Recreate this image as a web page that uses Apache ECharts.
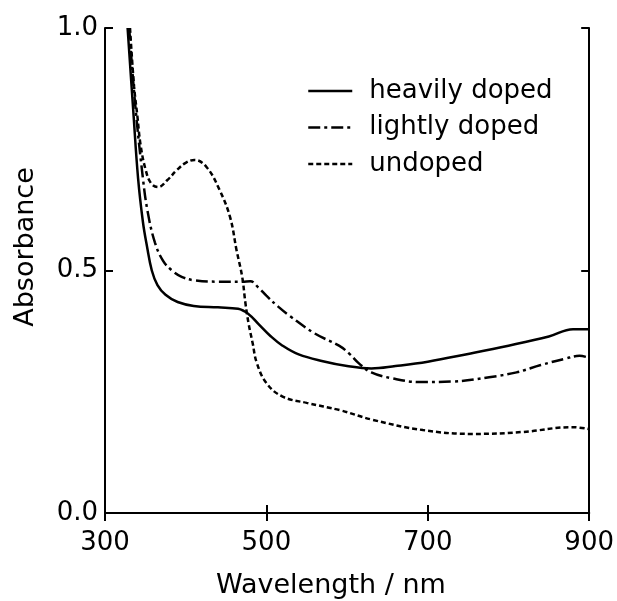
<!DOCTYPE html>
<html><head><meta charset="utf-8">
<script src="https://cdn.jsdelivr.net/npm/echarts@6/dist/echarts.min.js"></script>
<style>html,body{margin:0;padding:0;background:#fff}#c{width:617px;height:601px}</style>
</head><body><div id="c"></div>
<script>
const seriesNames = ["heavily doped", "lightly doped", "undoped"];
const xTicks = [300, 500, 700, 900];
const yTicks = [0.0, 0.5, 1.0];
const xTitle = "Wavelength / nm";
const yTitle = "Absorbance";

const heavyX = [328,335,341,347,352,358,365,375,390,410,440,465,478,490,505,520,540,570,600,630,660,700,750,800,850,880,900];
const heavyY = [1.0,0.83,0.69,0.6,0.55,0.5,0.47,0.45,0.435,0.427,0.424,0.421,0.41,0.39,0.365,0.345,0.327,0.313,0.303,0.298,0.303,0.312,0.328,0.345,0.364,0.379,0.379];

const lightX = [330,337,347,353,362,372,383,395,410,440,470,480,490,500,515,530,560,590,603,615,630,655,690,730,776,810,840,870,888,900];
const lightY = [1.0,0.85,0.69,0.62,0.557,0.52,0.5,0.487,0.48,0.477,0.477,0.478,0.465,0.448,0.425,0.405,0.37,0.345,0.328,0.308,0.29,0.278,0.27,0.271,0.28,0.29,0.305,0.318,0.324,0.32];

const undopedX = [331,336,340,344,350,357,366,377,389,400,411,426,442,455,463,470,474,478,483,488,500,520,550,591,632,694,756,817,879,900];
const undopedY = [1.0,0.88,0.82,0.76,0.71,0.68,0.672,0.686,0.707,0.722,0.728,0.713,0.666,0.61,0.542,0.487,0.433,0.39,0.35,0.31,0.268,0.24,0.227,0.212,0.192,0.171,0.163,0.167,0.177,0.173];

const pairs = (xs, ys) => xs.map((x, i) => [x, ys[i]]);
const font = "DejaVu Sans";
const styles = ["solid", [12, 4, 3, 4], [5, 3]];
const allX = [heavyX, lightX, undopedX];
const allY = [heavyY, lightY, undopedY];

const chart = echarts.init(document.getElementById('c'));
const axisBase = {
  axisLine: {show: true, lineStyle: {color: '#000', width: 2}},
  axisTick: {show: true, inside: true, length: 8, lineStyle: {color: '#000', width: 2}},
  splitLine: {show: false}
};
chart.setOption({
  animation: false,
  backgroundColor: '#fff',
  grid: {left: 105, right: 27, top: 28, bottom: 88},
  legend: seriesNames.map((n, i) => ({
    data: [n], left: 302, top: 73 + i * 36.5, itemWidth: 44, itemHeight: 14,
    itemStyle: {opacity: 0},
    lineStyle: {width: 2.5},
    textStyle: {fontFamily: font, fontSize: 26, color: '#000', padding: [0, 0, 0, 12]}
  })),
  graphic: [
    {type: 'text', left: 216, top: 572, style: {text: xTitle, font: '27px "DejaVu Sans"', fill: '#000'}},
    {type: 'text', x: 12, y: 247, rotation: Math.PI / 2, style: {text: yTitle, font: '27px "DejaVu Sans"', fill: '#000', align: 'center', verticalAlign: 'top'}}
  ],
  xAxis: [
    Object.assign({}, axisBase, {type: 'value', min: xTicks[0], max: xTicks[xTicks.length - 1], interval: 200,
      axisLabel: {fontFamily: font, fontSize: 26, color: '#000', margin: 17}}),
    Object.assign({}, axisBase, {type: 'value', position: 'top', min: 300, max: 900, interval: 200, axisLabel: {show: false}})
  ],
  yAxis: [
    Object.assign({}, axisBase, {type: 'value', min: yTicks[0], max: yTicks[yTicks.length - 1], interval: 0.5,
      axisLabel: {fontFamily: font, fontSize: 26, color: '#000', margin: 7, formatter: v => v.toFixed(1)}}),
    Object.assign({}, axisBase, {type: 'value', position: 'right', min: 0, max: 1, interval: 0.5, axisLabel: {show: false}})
  ],
  series: seriesNames.map((n, i) => ({
    name: n, type: 'line', smooth: 0.4, symbol: 'none', xAxisIndex: 0, yAxisIndex: 0,
    data: pairs(allX[i], allY[i]),
    itemStyle: {color: '#000'},
    lineStyle: {color: '#000', width: 2.5, type: styles[i]}
  }))
});
</script></body></html>
